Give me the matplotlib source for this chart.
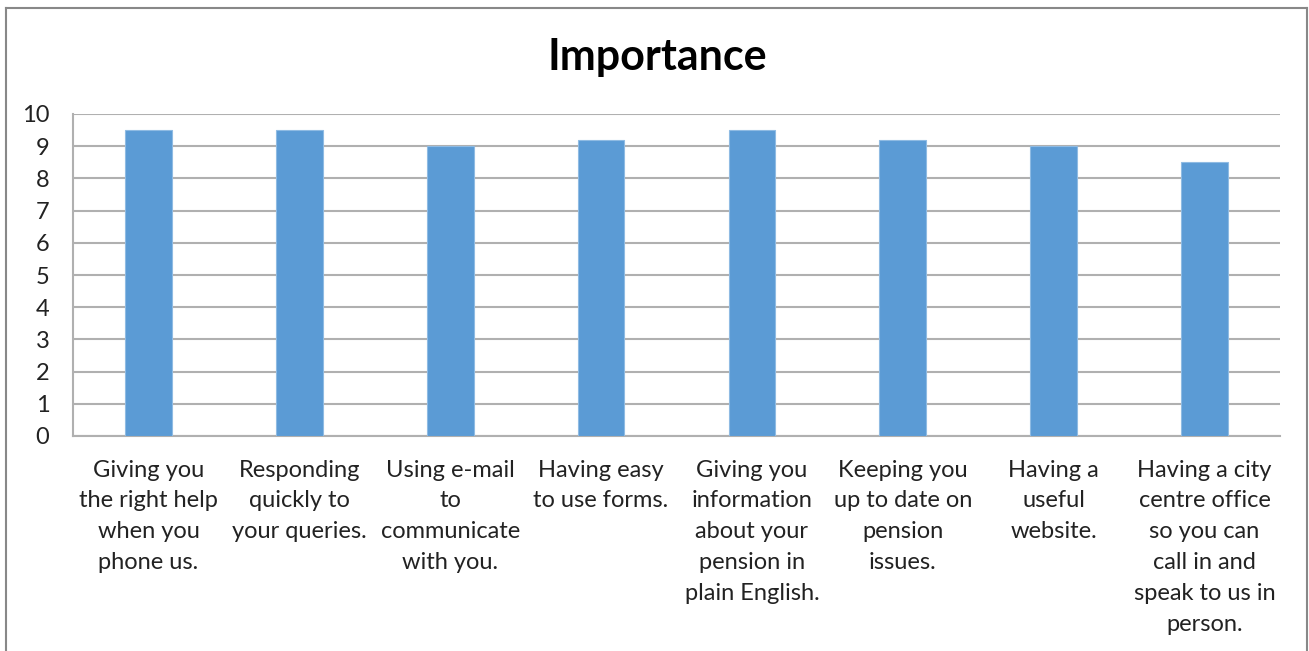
import matplotlib
matplotlib.use("Agg")
import matplotlib.pyplot as plt
from matplotlib.lines import Line2D

categories = [
    "Giving you\nthe right help\nwhen you\nphone us.",
    "Responding\nquickly to\nyour queries.",
    "Using e-mail\nto\ncommunicate\nwith you.",
    "Having easy\nto use forms.",
    "Giving you\ninformation\nabout your\npension in\nplain English.",
    "Keeping you\nup to date on\npension\nissues.",
    "Having a\nuseful\nwebsite.",
    "Having a city\ncentre office\nso you can\ncall in and\nspeak to us in\nperson.",
]
values = [9.5, 9.5, 9.0, 9.2, 9.5, 9.2, 9.0, 8.5]
yticks = list(range(0, 11))

plt.rcParams['font.family'] = ['Lato', 'DejaVu Sans']

fig = plt.figure(figsize=(13.09, 6.51), dpi=100)
ax = fig.add_axes([73/1309, 1-436/651, (1280-73)/1309, (436-114)/651])

x = list(range(len(values)))
ax.bar(x, values, width=0.31, color='#5B9BD5', edgecolor='#8FBBE3', linewidth=0.8, zorder=3)
ax.set_xlim(-0.5, len(values)-0.5)
ax.set_ylim(0, 10)
ax.set_yticks(yticks)
ax.set_yticklabels([str(t) for t in yticks], fontsize=17, color='#222222')
ax.set_xticks(x)
ax.set_xticklabels(categories, fontsize=17, color='#222222', linespacing=1.58, ha='center', va='top')
ax.tick_params(axis='y', length=0, pad=17)
ax.tick_params(axis='x', length=0, pad=17)
ax.yaxis.grid(True, color='#B0B0B0', linewidth=1.5, zorder=0)
for s in ['top', 'right']:
    ax.spines[s].set_visible(False)
for s in ['left', 'bottom']:
    ax.spines[s].set_color('#B0B0B0')
    ax.spines[s].set_linewidth(1.5)

fig.text(657/1309, 1-57/651, "Importance", ha='center', va='center', fontsize=31, fontweight='bold', color='black')

# outer chart border (top, left, right)
bx0, bx1, by = 6/1309, 1307/1309, 1-8/651
for xs, ys in [([bx0, bx1], [by, by]), ([bx0, bx0], [by, 0]), ([bx1, bx1], [by, 0])]:
    fig.add_artist(Line2D(xs, ys, transform=fig.transFigure, color='#888888', linewidth=1.5))

fig.savefig("out.png", dpi=100)
